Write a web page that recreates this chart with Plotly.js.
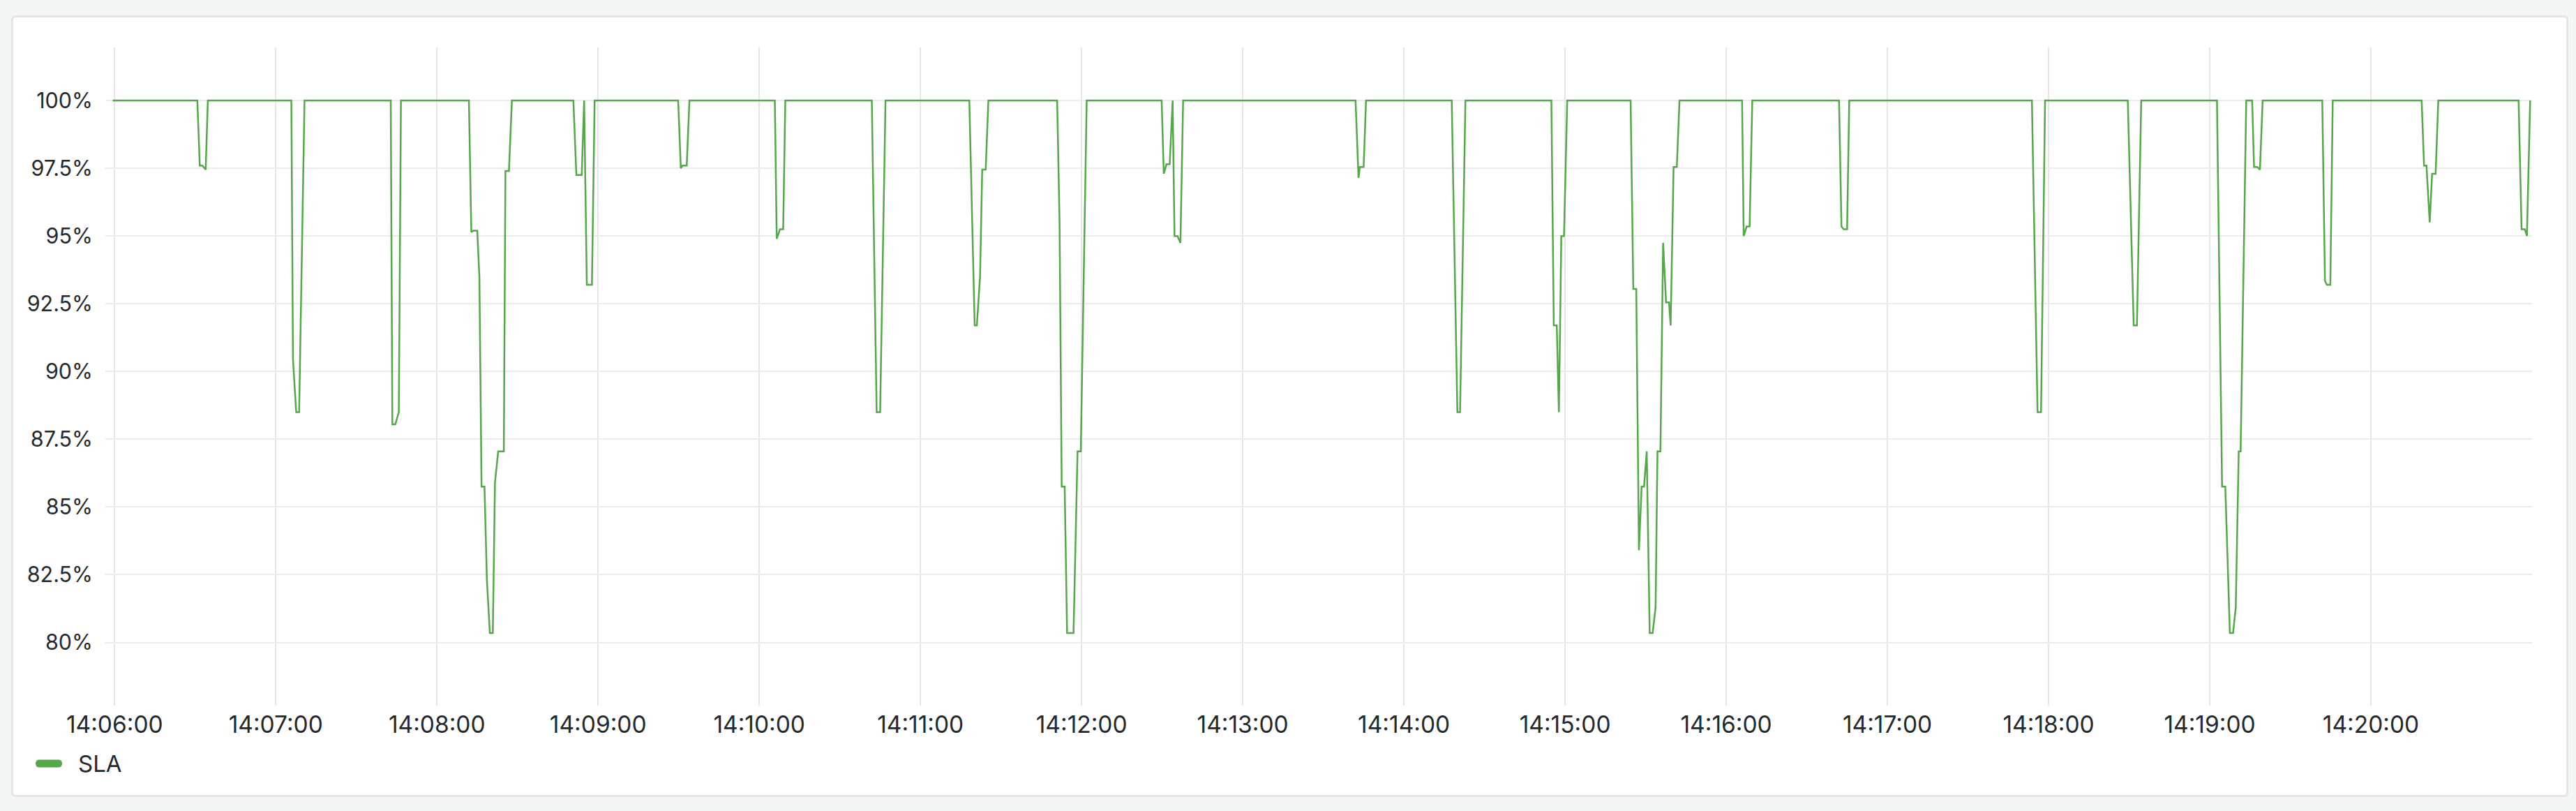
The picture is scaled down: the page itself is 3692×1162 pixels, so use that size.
<!DOCTYPE html>
<html>
<head>
<meta charset="utf-8">
<script src="https://cdn.plot.ly/plotly-3.0.1.min.js"></script>
<style>
  html, body { margin: 0; padding: 0; background: #f4f5f5; }
  body { width: 3692px; height: 1162px; position: relative; overflow: hidden; }
  #card {
    position: absolute; left: 16px; top: 22px; width: 3665px; height: 1120px;
    background: #fff; border: 3px solid #e3e5e7; border-radius: 6px; box-sizing: border-box;
  }
  #plot { position: absolute; left: 0; top: 0; width: 3692px; height: 1162px; }
</style>
</head>
<body>
<div id="card"></div>
<div id="plot"></div>
<script>
// --- SLA samples, seconds after 14:06:00 (only the vertices of the line) ---
const day = "2024-01-01";
const seconds = [
  -0.7,
  30.8, 31.7, 32.7, 33.9, 34.7,
  65.8, 66.4, 67.6, 68.7, 70.7,
  102.8, 103.4, 104.5, 105.8, 106.6,
  131.9, 132.8, 133.6, 135.0, 135.8, 136.6, 137.7, 138.6, 139.7, 140.8, 141.6, 142.8, 144.9, 145.5, 146.8, 147.9,
  170.8, 171.9, 173.9, 174.8, 175.8, 177.7, 178.7,
  209.8, 210.8, 211.5, 213.0, 214.0,
  245.8, 246.5, 247.7, 248.9, 249.7,
  281.9, 283.7, 285.0, 287.0,
  318.2, 320.2, 321.0, 322.2, 323.0, 324.3, 325.3,
  350.9, 351.8, 352.6, 353.7, 354.6, 357.0, 358.5, 359.7, 361.9,
  389.8, 390.6, 391.6, 392.8, 393.9, 394.6, 395.7, 396.8, 397.8,
  462.0, 463.1, 463.6, 465.0, 465.9,
  497.8, 499.9, 500.9, 502.9,
  534.9, 535.8, 536.9, 537.7, 538.6, 539.6, 540.8,
  564.4, 565.4, 566.5, 567.5, 568.5, 569.4, 570.4, 571.5, 572.6, 573.7, 574.4, 575.5, 576.5, 577.6, 578.7, 579.3, 580.4, 581.6, 582.6,
  605.9, 606.5, 607.6, 608.7, 609.7,
  642.0, 642.9, 643.7, 645.0, 645.8,
  713.8, 715.9, 717.2, 718.7,
  749.5, 751.7, 752.9, 754.5,
  782.7, 784.6, 785.8, 787.5, 788.7, 789.7, 790.8, 791.5, 793.6, 795.8, 796.5, 797.7, 798.7, 799.7,
  821.9, 822.9, 823.6, 824.9, 825.8,
  858.9, 859.8, 860.7, 861.9, 862.8, 864.1, 865.1,
  895.0, 896.1, 897.3, 898.1, 899.3
];
const sla = [
  100,
  100, 97.6, 97.6, 97.45, 100,
  100, 90.45, 88.5, 88.5, 100,
  100, 88.05, 88.05, 88.5, 100,
  100, 95.15, 95.2, 95.2, 93.5, 85.75, 85.75, 82.3, 80.35, 80.35, 85.9, 87.05, 87.05, 97.4, 97.4, 100,
  100, 97.25, 97.25, 100, 93.2, 93.2, 100,
  100, 97.5, 97.6, 97.6, 100,
  100, 94.9, 95.25, 95.25, 100,
  100, 88.5, 88.5, 100,
  100, 91.7, 91.7, 93.5, 97.45, 97.45, 100,
  100, 95.5, 85.75, 85.75, 80.35, 80.35, 87.05, 87.05, 100,
  100, 97.3, 97.65, 97.65, 100, 95.0, 95.0, 94.75, 100,
  100, 97.15, 97.55, 97.55, 100,
  100, 88.5, 88.5, 100,
  100, 91.7, 91.7, 88.5, 95.0, 95.0, 100,
  100, 93.05, 93.05, 83.4, 85.75, 85.75, 87.05, 80.35, 80.35, 81.3, 87.05, 87.05, 94.75, 92.55, 92.55, 91.7, 97.55, 97.55, 100,
  100, 95.0, 95.35, 95.35, 100,
  100, 95.35, 95.25, 95.25, 100,
  100, 88.5, 88.5, 100,
  100, 91.7, 91.7, 100,
  100, 85.75, 85.75, 80.35, 80.35, 81.3, 87.05, 87.05, 100, 100, 97.55, 97.55, 97.45, 100,
  100, 93.35, 93.2, 93.2, 100,
  100, 97.6, 97.6, 95.5, 97.3, 97.3, 100,
  100, 95.25, 95.25, 95.0, 100
];

const xTickLabels = ["14:06:00", "14:07:00", "14:08:00", "14:09:00", "14:10:00", "14:11:00", "14:12:00",
  "14:13:00", "14:14:00", "14:15:00", "14:16:00", "14:17:00", "14:18:00", "14:19:00", "14:20:00"];
const yTickVals = [80, 82.5, 85, 87.5, 90, 92.5, 95, 97.5, 100];
const yTickLabels = ["80%", "82.5%", "85%", "87.5%", "90%", "92.5%", "95%", "97.5%", "100%"];

function stamp(s) {
  const ms = Date.UTC(2024, 0, 1, 14, 6, 0) + Math.round(s * 1000);
  return new Date(ms).toISOString().replace("T", " ").replace("Z", "");
}

// page geometry (px) used to place the hand-made legend
const W = 3692, H = 1162;
const M = { l: 151, r: 63, t: 68, b: 151 };
const px = x => (x - M.l) / (W - M.l - M.r);
const py = y => (H - M.b - y) / (H - M.t - M.b);

const green = "#56A64B";
const textColor = "#24292e";
const family = "Inter, 'Noto Sans', sans-serif";

const trace = {
  type: "scatter",
  mode: "lines",
  name: "SLA",
  x: seconds.map(stamp),
  y: sla,
  line: { color: green, width: 2.5 },
  hoverinfo: "skip"
};

const layout = {
  width: W,
  height: H,
  margin: M,
  paper_bgcolor: "rgba(0,0,0,0)",
  plot_bgcolor: "rgba(0,0,0,0)",
  font: { family: family, size: 33, color: textColor },
  showlegend: false,
  xaxis: {
    type: "date",
    range: [stamp(-3.45), stamp(900.0)],
    tickvals: xTickLabels.map(t => day + " " + t),
    ticktext: xTickLabels,
    showgrid: true,
    gridcolor: "#e6e6e6",
    gridwidth: 2,
    zeroline: false,
    showline: false,
    ticks: "",
    ticklabelstandoff: 4,
    tickfont: { family: family, size: 33.5, color: textColor }
  },
  yaxis: {
    range: [77.67, 101.96],
    tickvals: yTickVals,
    ticktext: yTickLabels,
    showgrid: true,
    gridcolor: "#ececec",
    gridwidth: 2,
    zeroline: false,
    showline: false,
    ticks: "",
    ticklabelstandoff: 17,
    tickfont: { family: family, size: 30.5, color: textColor }
  },
  shapes: [{
    type: "path",
    xref: "paper", yref: "paper",
    xsizemode: "pixel", ysizemode: "pixel",
    xanchor: px(70), yanchor: py(1094),
    path: "M -13.5,-5.5 L 13.5,-5.5 Q 19,-5.5 19,0 Q 19,5.5 13.5,5.5 L -13.5,5.5 Q -19,5.5 -19,0 Q -19,-5.5 -13.5,-5.5 Z",
    fillcolor: green,
    line: { width: 0 }
  }],
  annotations: [{
    xref: "paper", yref: "paper",
    x: px(110), y: py(1094),
    xanchor: "left", yanchor: "middle",
    text: "SLA",
    showarrow: false,
    font: { family: family, size: 33, color: textColor }
  }]
};

Plotly.newPlot("plot", [trace], layout, { displayModeBar: false, staticPlot: true });
</script>
</body>
</html>
